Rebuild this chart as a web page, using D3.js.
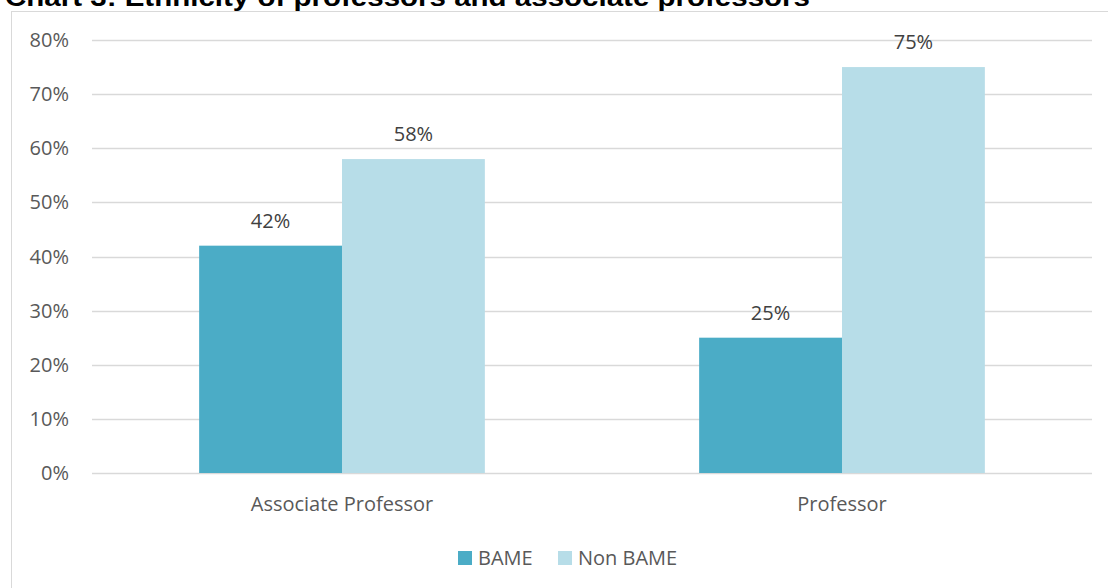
<!DOCTYPE html>
<html>
<head>
<meta charset="utf-8">
<script src="https://cdn.jsdelivr.net/npm/d3@7"></script>
<style>
  body { margin: 0; background: #fff; }
  svg { display: block; }
</style>
</head>
<body>
<script>
  // Chart data
  const categories = ["Associate Professor", "Professor"];
  const seriesNames = ["BAME", "Non BAME"];
  const bameValues = [0.42, 0.25];
  const nonBameValues = [0.58, 0.75];
  const yTicks = [0, 0.1, 0.2, 0.3, 0.4, 0.5, 0.6, 0.7, 0.8];
  const colors = ["#4bacc6", "#b7dde8"];

  const width = 1108;
  const height = 588;

  const svg = d3.select("body")
    .append("svg")
    .attr("width", width)
    .attr("height", height);

  // Chart frame
  svg.append("rect")
    .attr("x", 11.5)
    .attr("y", 11.5)
    .attr("width", 1110)
    .attr("height", 600)
    .attr("fill", "#fff")
    .attr("stroke", "#d9d9d9")
    .attr("stroke-width", 1);

  // Title (partly hidden by the top edge, as in the reference)
  svg.append("text")
    .attr("x", 5)
    .attr("y", 6)
    .attr("font-family", "Liberation Sans, Arial, sans-serif")
    .attr("font-weight", "bold")
    .attr("font-size", 26)
    .attr("textLength", 805)
    .attr("lengthAdjust", "spacingAndGlyphs")
    .attr("fill", "#000")
    .text("Chart 3: Ethnicity of professors and associate professors");

  const x0 = d3.scaleBand()
    .domain(categories)
    .range([92, 1092])
    .paddingInner(0)
    .paddingOuter(0);

  const x1 = d3.scaleBand()
    .domain(seriesNames)
    .range([0, x0.bandwidth()])
    .paddingInner(0)
    .paddingOuter(0.75);

  const y = d3.scaleLinear()
    .domain([0, 0.8])
    .range([473, 40]);

  const fontFamily = "Open Sans, Calibri, sans-serif";
  const fontSize = 20;

  // Gridlines
  svg.append("g")
    .selectAll("line")
    .data(yTicks)
    .enter()
    .append("line")
    .attr("x1", 92)
    .attr("x2", 1092)
    .attr("y1", d => Math.round(y(d)) + 0.5)
    .attr("y2", d => Math.round(y(d)) + 0.5)
    .attr("stroke", "#d9d9d9")
    .attr("stroke-width", 1.5);

  // Y axis labels
  svg.append("g")
    .selectAll("text")
    .data(yTicks)
    .enter()
    .append("text")
    .attr("x", 69)
    .attr("y", d => y(d))
    .attr("dy", "0.35em")
    .attr("text-anchor", "end")
    .attr("font-family", fontFamily)
    .attr("font-size", fontSize)
    .attr("fill", "#595959")
    .text(d => d3.format(".0%")(d));

  // Bars
  const rows = categories.map((c, i) => ({
    category: c,
    values: [
      { series: seriesNames[0], value: bameValues[i] },
      { series: seriesNames[1], value: nonBameValues[i] }
    ]
  }));

  const groups = svg.append("g")
    .selectAll("g")
    .data(rows)
    .enter()
    .append("g")
    .attr("transform", d => `translate(${x0(d.category)},0)`);

  groups.selectAll("rect")
    .data(d => d.values)
    .enter()
    .append("rect")
    .attr("x", d => x1(d.series))
    .attr("y", d => y(d.value))
    .attr("width", x1.bandwidth())
    .attr("height", d => y(0) - y(d.value))
    .attr("fill", (d, i) => colors[i]);

  // Value labels
  groups.selectAll("text")
    .data(d => d.values)
    .enter()
    .append("text")
    .attr("x", d => x1(d.series) + x1.bandwidth() / 2)
    .attr("y", d => y(d.value) - 25)
    .attr("dy", "0.35em")
    .attr("text-anchor", "middle")
    .attr("font-family", fontFamily)
    .attr("font-size", fontSize)
    .attr("fill", "#404040")
    .text(d => d3.format(".0%")(d.value));

  // Category labels
  svg.append("g")
    .selectAll("text")
    .data(categories)
    .enter()
    .append("text")
    .attr("x", d => x0(d) + x0.bandwidth() / 2)
    .attr("y", 504)
    .attr("dy", "0.35em")
    .attr("text-anchor", "middle")
    .attr("font-family", fontFamily)
    .attr("font-size", fontSize)
    .attr("fill", "#595959")
    .text(d => d);

  // Legend
  const legendX = [458, 558];
  const legend = svg.append("g")
    .selectAll("g")
    .data(seriesNames)
    .enter()
    .append("g")
    .attr("transform", (d, i) => `translate(${legendX[i]},551)`);

  legend.append("rect")
    .attr("width", 14)
    .attr("height", 14)
    .attr("fill", (d, i) => colors[i]);

  legend.append("text")
    .attr("x", 20)
    .attr("y", 7)
    .attr("dy", "0.35em")
    .attr("font-family", fontFamily)
    .attr("font-size", fontSize)
    .attr("fill", "#595959")
    .text(d => d);
</script>
</body>
</html>
